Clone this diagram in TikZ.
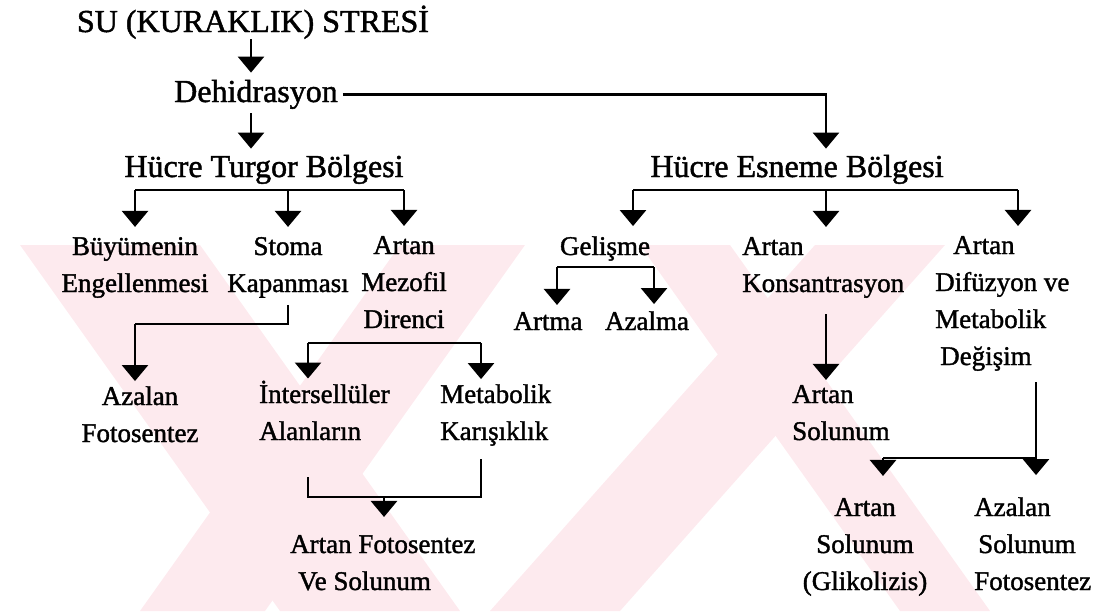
\documentclass[tikz,border=0pt]{standalone}
\usepackage{fontspec}
\setmainfont{Liberation Serif}[FakeBold=1.4]
\usetikzlibrary{arrows.meta,calc}

\definecolor{wmpink}{RGB}{253,234,238}

\tikzset{
  big/.style={font=\fontsize{32}{37}\selectfont, inner sep=0pt, anchor=base},
  small/.style={font=\fontsize{27}{37}\selectfont, inner sep=0pt, anchor=base, align=center},
  lft/.style={anchor=base west, align=left},
  line/.style={line width=2.6pt},
  arr/.style={line width=2.6pt, -{Triangle[width=26pt,length=16pt]}},
  band/.style={fill=wmpink, draw=none},
}

\begin{document}
\begin{tikzpicture}[x=1pt,y=-1pt]
  \useasboundingbox (0,0) rectangle (1102,611);
  % faint watermark behind the chart
  \fill[band] (20,245) -- (200,245) -- (460,611) -- (280,611) -- cycle;
  \fill[band] (400,245) -- (525,245) -- (265,611) -- (140,611) -- cycle;
  \fill[band] (640,245) -- (730,245) -- (990,611) -- (900,611) -- cycle;
  \fill[band] (815,245) -- (945,245) -- (620,611) -- (490,611) -- cycle;

  % top chain
  \node[big] (stres) at (253,32) {SU (KURAKLIK) STRESİ};
  \node[big] (dehid) at (256,102) {Dehidrasyon};
  \node[big] (turgor) at (264,177) {Hücre Turgor Bölgesi};
  \node[big] (esneme) at (797,177) {Hücre Esneme Bölgesi};
  % second row (at the baseline of the last line)
  \node[small] (buyume) at (135,292) {Büyümenin\\Engellenmesi};
  \node[small] (stoma) at (288,292) {Stoma\\Kapanması};
  \node[small] (mezofil) at (404,328) {Artan\\Mezofil\\Direnci};
  \node[small] (gelisme) at (605,255) {Gelişme};
  \node[small,lft] (konsan) at (742,292) {Artan\\Konsantrasyon};
  \node[small,lft] (difuzyon) at (935,365) {\hspace*{18pt}Artan\\Difüzyon ve\\Metabolik\\\hspace*{5pt}Değişim};
  \node[small] (artma) at (548,330) {Artma};
  \node[small] (azalma) at (647,330) {Azalma};
  % third row
  \node[small] (azalanf) at (140,442) {Azalan\\Fotosentez};
  \node[small,lft] (inter) at (259,440) {İntersellüler\\Alanların};
  \node[small,lft] (karisik) at (440,440) {Metabolik\\Karışıklık};
  \node[small,lft] (solunum) at (792,440) {Artan\\Solunum};
  \node[small] (glikoliz) at (865,590) {Artan\\Solunum\\(Glikolizis)};
  \node[small,lft] (azalans) at (974,590) {Azalan\\\hspace*{4pt}Solunum\\Fotosentez};
  \node[small,lft] (artanf) at (290,590) {Artan Fotosentez\\\hspace*{8pt}Ve Solunum};

  % bends and bars
  \coordinate (tl) at (135,190);
  \coordinate (tr) at (404,190);
  \coordinate (el) at (633,190);
  \coordinate (em) at (826,190);
  \coordinate (er) at (1018,190);
  \coordinate (sk) at (288,324);
  \coordinate (ml) at (308,343);
  \coordinate (mr) at (481,343);
  \coordinate (gl) at (557,267);
  \coordinate (gr) at (654,267);
  \coordinate (dr) at (1036,458);
  \coordinate (dl) at (883,458);
  \coordinate (al) at (308,497);
  \coordinate (ar) at (481,497);
  \coordinate (am) at (384,497);

  \draw[arr] ($(stres.south)+(-2,0)$) -- ($(stres.south |- dehid.north)+(-2,-7)$);
  \draw[arr] ($(stres |- dehid.south)+(-2,4)$) -- ($(stres |- turgor.north)+(-2,-6)$);
  \draw[arr] ($(dehid.east)+(5,0)$) -| ($(em |- esneme.north)+(0,-6)$);

  \draw[line] (tl) -- (tr);
  \foreach \n/\c in {buyume/tl,stoma/sk,mezofil/tr}
    \draw[arr] (\c |- tl) -- ($(\c |- \n.north)+(0,-10)$);
  \draw[line] (el) -- (er);
  \draw[arr] (el) -- ($(el |- gelisme.north)+(0,-10)$);
  \draw[arr] (em) -- ($(em |- konsan.north)+(0,-10)$);
  \draw[arr] (er) -- ($(er |- difuzyon.north)+(0,-10)$);

  \draw[line] ($(sk |- stoma.south)+(0,7)$) -- (sk) -| (tl |- sk);
  \draw[arr] (tl |- sk) -- ($(tl |- azalanf.north)+(0,-5)$);

  \draw[line] (ml) -- (mr);
  \draw[arr] (ml) -- ($(ml |- inter.north)+(0,-2)$);
  \draw[arr] (mr) -- ($(mr |- karisik.north)+(0,-5)$);

  \draw[line] (gl) -- (gr);
  \draw[arr] (gl) -- ($(gl |- artma.north)+(0,-7)$);
  \draw[arr] (gr) -- ($(gr |- azalma.north)+(0,-7)$);

  \draw[arr] ($(em |- konsan.south)+(0,16)$) -- ($(em |- solunum.north)+(0,-5)$);

  \draw[line] ($(dr |- difuzyon.south)+(0,11)$) -- (dr) -- (dl);
  \draw[arr] (dr) -- ($(dr |- azalans.north)+(0,-22)$);
  \draw[arr] (dl) -- ($(dl |- glikoliz.north)+(0,-22)$);

  \draw[line] ($(al |- inter.south)+(0,37)$) -- (al) -- (ar) -- ($(ar |- karisik.south)+(0,13)$);
  \draw[arr] (am) -- ($(am |- artanf.north)+(0,-18)$);
\end{tikzpicture}
\end{document}
